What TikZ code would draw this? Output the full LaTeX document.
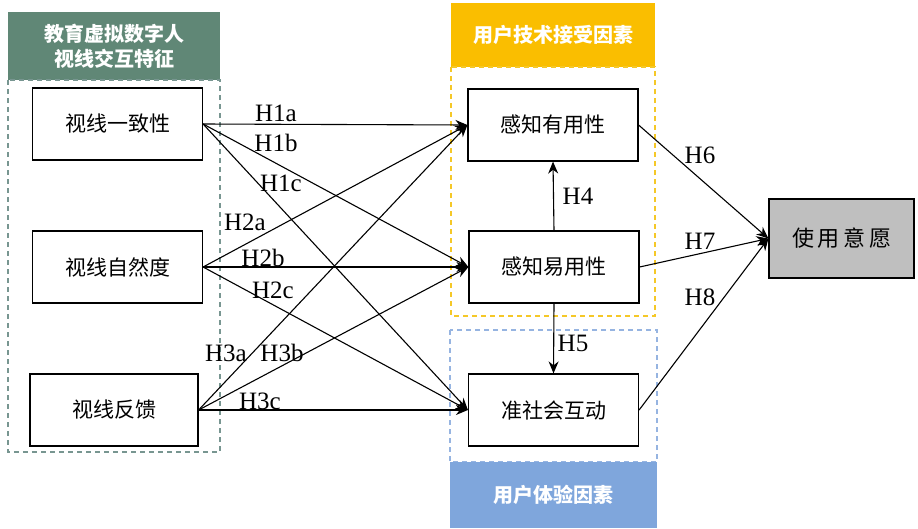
\documentclass[tikz,border=0pt]{standalone}
\usepackage{fontspec}
\setmainfont{Liberation Serif}
\newfontfamily\cjk{Noto Sans CJK SC}
\usetikzlibrary{arrows.meta}
\definecolor{grhead}{RGB}{96,135,118}
\definecolor{grline}{RGB}{120,150,145}
\definecolor{yehead}{RGB}{250,190,0}
\definecolor{yeline}{RGB}{245,200,40}
\definecolor{blhead}{RGB}{127,166,220}
\definecolor{blline}{RGB}{150,180,225}
\tikzset{
  factor/.style={draw,line width=1.2pt,minimum width=170pt,minimum height=72pt,
    font=\cjk\fontsize{21}{24}\selectfont},
  hlabel/.style={font=\fontsize{25}{27}\selectfont,inner sep=0pt},
  headtext/.style={text=white,align=center,font=\cjk\bfseries\fontsize{20}{25}\selectfont},
  frame/.style={line width=1.3pt,dash pattern=on 5pt off 4pt},
  arr/.style={line width=1.1pt,-{Stealth[length=12pt,width=10pt]}}
}
\begin{document}
\begin{tikzpicture}[x=1pt,y=-1pt]
  \useasboundingbox (0,0) rectangle (918,528);
  % group frames and headers
  \fill[grhead] (8,12) rectangle (220,80);
  \draw[grline,frame] (8,80) rectangle (220,452);
  \node[headtext] (ghead) at (114,46) {教育虚拟数字人\\视线交互特征};
  \fill[yehead] (451,3) rectangle (655,67);
  \draw[yeline,frame] (451,67) rectangle (655,316);
  \node[headtext] (yhead) at (553,35) {用户技术接受因素};
  \draw[blline,frame] (450,330) rectangle (657,462);
  \fill[blhead] (450,462) rectangle (657,528);
  \node[headtext] (bhead) at (553,495) {用户体验因素};
  % factor boxes
  \node[factor] (gc) at (117.5,124) {视线一致性};
  \node[factor] (gn) at (117.5,267) {视线自然度};
  \node[factor,minimum width=168pt] (gf) at (114,410) {视线反馈};
  \node[factor] (pu) at (553,125) {感知有用性};
  \node[factor] (pe) at (554,267) {感知易用性};
  \node[factor] (ps) at (553.5,410) {准社会互动};
  \node[factor,fill=black!25,minimum width=145pt,minimum height=79pt,
    font=\cjk\fontsize{22}{24}\selectfont] (ui) at (841.5,238.5) {使\,用\,意\,愿};
  % hypotheses
  \foreach \s in {gc,gn,gf}
    \foreach \t in {pu,pe,ps}
      \draw[arr] (\s.east) -- (\t.west);
  \draw[arr] (pe.north) -- (pu.south);
  \draw[arr] (pe.south) -- (ps.north);
  \foreach \t in {pu,pe,ps}
    \draw[arr] (\t.east) -- (ui.west);
  % labels
  \node[hlabel] (h1a) at (276,113) {H1a};
  \node[hlabel] (h1b) at (276,143) {H1b};
  \node[hlabel] (h1c) at (281,183) {H1c};
  \node[hlabel] (h2a) at (245,222) {H2a};
  \node[hlabel] (h2b) at (263,258) {H2b};
  \node[hlabel] (h2c) at (273,290) {H2c};
  \node[hlabel] (h3a) at (226,353) {H3a};
  \node[hlabel] (h3b) at (282,353) {H3b};
  \node[hlabel] (h3c) at (260,401) {H3c};
  \node[hlabel] (h4) at (578,196) {H4};
  \node[hlabel] (h5) at (573,343) {H5};
  \node[hlabel] (h6) at (700,155) {H6};
  \node[hlabel] (h7) at (700,241) {H7};
  \node[hlabel] (h8) at (700,297) {H8};
\end{tikzpicture}
\end{document}
